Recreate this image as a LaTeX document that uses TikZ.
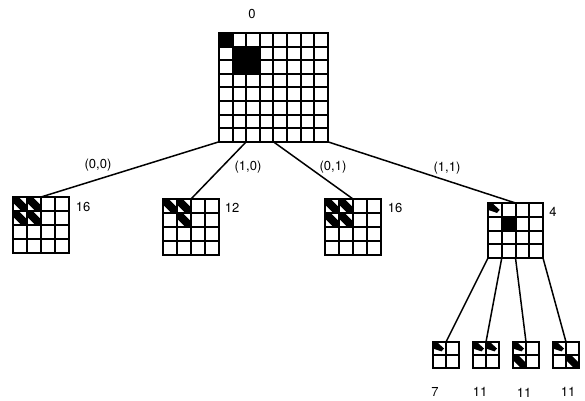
\documentclass[tikz,border=0pt]{standalone}
\usepackage{fontspec}
\setmainfont{TeX Gyre Heros}
\usetikzlibrary{calc}
\begin{document}
\begin{tikzpicture}[x=1pt, y=-1pt,
  gridline/.style={line width=2pt, line cap=rect},
  branch/.style={line width=1.5pt},
  count/.style={font=\fontsize{13}{13}\selectfont, inner sep=0pt},
  edgelab/.style={font=\fontsize{13}{13}\selectfont, inner sep=0pt}]
\useasboundingbox (0,0) rectangle (585,400);

% square grid: name, left, top, cells per side, cell size
\newcommand\qgrid[5]{%
  \foreach \k in {0,...,#4}{%
    \draw[gridline] ({#2+\k*#5},#3) -- ({#2+\k*#5},{#3+#4*#5});
    \draw[gridline] (#2,{#3+\k*#5}) -- ({#2+#4*#5},{#3+\k*#5});
  }%
  \node[inner sep=0pt, outer sep=0pt, minimum size=#4*#5pt, anchor=north west] (#1) at (#2,#3) {};
}
% solid cell: left, top, size
\newcommand\solidcell[3]{\fill (#1,#2) rectangle ({#1+#3},{#2+#3});}
% diagonal band across a cell: left, top, size
\newcommand\band[3]{%
  \fill[shift={(#1,#2)}, x=#3pt, y=-#3pt]
    (0,0) -- (0.4,0) -- (1,0.6) -- (1,1) -- (0.6,1) -- (0,0.4) -- cycle;}
% partial wedge in a corner cell: left, top, size
\newcommand\cornerwedge[3]{%
  \fill[shift={(#1,#2)}, x=#3pt, y=-#3pt]
    (0,0) -- (0.3,0) -- (0.85,0.5) -- (0.65,0.72) -- (0,0.5) -- cycle;}

% root image 8x8
\solidcell{219}{33}{13.6}
\fill (232.6,46.6) rectangle (259.8,73.8);
\qgrid{root}{219}{33}{8}{13.6}
\node[count] (l0) at (252,14) {0};

% first level 4x4
\band{13}{197}{14}\band{27}{197}{14}\band{13}{211}{14}\band{27}{211}{14}
\qgrid{c1}{13}{197}{4}{14}
\band{163}{199}{14}\band{177}{199}{14}\band{177}{213}{14}
\qgrid{c2}{163}{199}{4}{14}
\band{325}{199}{14}\band{339}{199}{14}\band{325}{213}{14}\band{339}{213}{14}
\qgrid{c3}{325}{199}{4}{14}
\cornerwedge{488}{203}{13.75}
\solidcell{501.75}{216.75}{13.75}
\qgrid{c4}{488}{203}{4}{13.75}

\node[count] (n1) at (83,207) {16};
\node[count] (n2) at (232,208) {12};
\node[count] (n3) at (395,208) {16};
\node[count] (n4) at (553,212) {4};

% second level 2x2
\cornerwedge{433}{342}{13}
\qgrid{g1}{433}{342}{2}{13}
\cornerwedge{473}{342}{13}\cornerwedge{486}{342}{13}
\qgrid{g2}{473}{342}{2}{13}
\cornerwedge{513}{342}{13}\band{513}{355}{13}
\qgrid{g3}{513}{342}{2}{13}
\cornerwedge{553}{342}{13}\band{566}{355}{13}
\qgrid{g4}{553}{342}{2}{13}

\node[count] (m1) at (435,392) {7};
\node[count] (m2) at (480,392) {11};
\node[count] (m3) at (524,393) {11};
\node[count] (m4) at (568,392) {11};

% branches from the root
\draw[branch] (root.south west) -- (c1.north);
\draw[branch] ($(root.south west)!0.25!(root.south east)$) -- (c2.north);
\draw[branch] (root.south) -- (c3.north);
\draw[branch] (root.south east) -- (c4.north);
\node[edgelab] (e1) at (98,165) {(0,0)};
\node[edgelab] (e2) at (248,167) {(1,0)};
\node[edgelab] (e3) at (333,167) {(0,1)};
\node[edgelab] (e4) at (447,168) {(1,1)};

% branches from the last quadrant
\draw[branch] (c4.south west) -- (g1.north);
\draw[branch] ($(c4.south west)!0.25!(c4.south east)$) -- (g2.north);
\draw[branch] (c4.south) -- (g3.north);
\draw[branch] (c4.south east) -- (g4.north);
\end{tikzpicture}
\end{document}
